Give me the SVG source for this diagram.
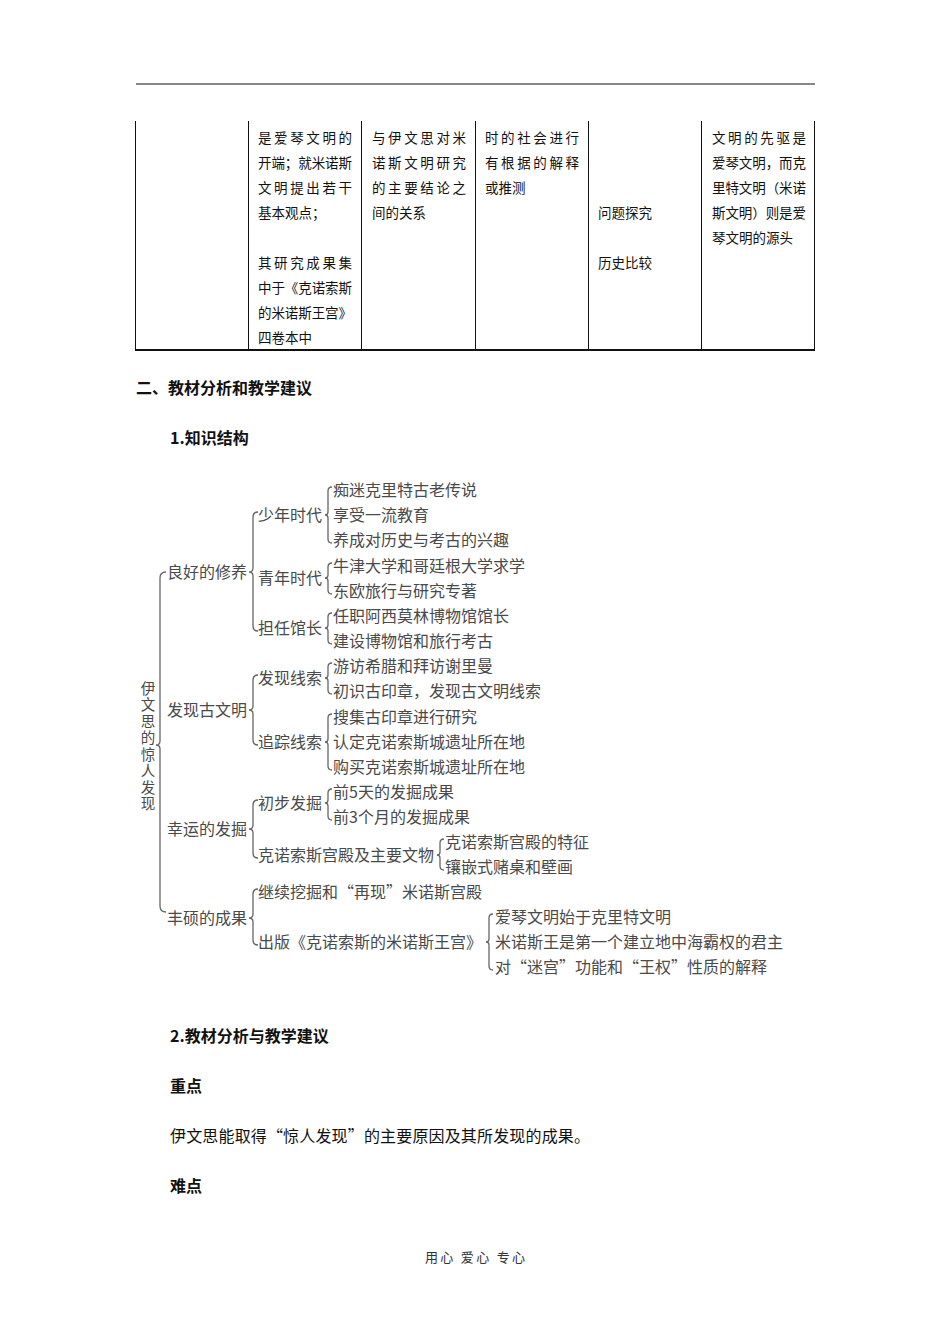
<svg xmlns="http://www.w3.org/2000/svg" width="950" height="1344" viewBox="0 0 950 1344">
<style>
text{font-family:"Noto Sans CJK SC","Noto Sans",sans-serif;}
.tb{font-size:13.5px;fill:#111;}
.h{font-size:16px;font-weight:bold;fill:#111;}
.p{font-size:16px;fill:#111;}
.tr{font-size:16px;fill:#4a4a4a;}
.rt{font-size:14.5px;fill:#4a4a4a;writing-mode:vertical-rl;letter-spacing:2px;}
.ft{font-size:13px;fill:#333;}
.br{fill:none;stroke:#666;stroke-width:1.3;}
.tl{stroke:#111;stroke-width:1;}
</style>
<rect width="950" height="1344" fill="#fff"/>
<line x1="136" y1="84" x2="815" y2="84" stroke="#111" stroke-width="1.2"/>

<g id="table">
<line class="tl" x1="135.5" y1="121" x2="135.5" y2="350"/>
<line class="tl" x1="248.5" y1="121" x2="248.5" y2="350"/>
<line class="tl" x1="361.5" y1="121" x2="361.5" y2="350"/>
<line class="tl" x1="475.5" y1="121" x2="475.5" y2="350"/>
<line class="tl" x1="588.5" y1="121" x2="588.5" y2="350"/>
<line class="tl" x1="701.5" y1="121" x2="701.5" y2="350"/>
<line class="tl" x1="814.5" y1="121" x2="814.5" y2="350"/>
<line x1="135" y1="350" x2="815" y2="350" stroke="#111" stroke-width="2"/>
<g class="tb">
<text x="258" y="143" textLength="94" lengthAdjust="spacing">是爱琴文明的</text>
<text x="258" y="168" textLength="94" lengthAdjust="spacing">开端；就米诺斯</text>
<text x="258" y="193" textLength="94" lengthAdjust="spacing">文明提出若干</text>
<text x="258" y="218">基本观点；</text>
<text x="258" y="268" textLength="94" lengthAdjust="spacing">其研究成果集</text>
<text x="258" y="293" textLength="94" lengthAdjust="spacing">中于《克诺索斯</text>
<text x="258" y="318" textLength="94" lengthAdjust="spacing">的米诺斯王宫》</text>
<text x="258" y="343">四卷本中</text>
<text x="372" y="143" textLength="94" lengthAdjust="spacing">与伊文思对米</text>
<text x="372" y="168" textLength="94" lengthAdjust="spacing">诺斯文明研究</text>
<text x="372" y="193" textLength="94" lengthAdjust="spacing">的主要结论之</text>
<text x="372" y="218">间的关系</text>
<text x="485" y="143" textLength="94" lengthAdjust="spacing">时的社会进行</text>
<text x="485" y="168" textLength="94" lengthAdjust="spacing">有根据的解释</text>
<text x="485" y="193">或推测</text>
<text x="598" y="218">问题探究</text>
<text x="598" y="268">历史比较</text>
<text x="712" y="143" textLength="94" lengthAdjust="spacing">文明的先驱是</text>
<text x="712" y="168" textLength="94" lengthAdjust="spacing">爱琴文明，而克</text>
<text x="712" y="193" textLength="94" lengthAdjust="spacing">里特文明（米诺</text>
<text x="712" y="218" textLength="94" lengthAdjust="spacing">斯文明）则是爱</text>
<text x="712" y="243">琴文明的源头</text>
</g>
</g>

<text class="h" x="136" y="394">二、教材分析和教学建议</text>
<text class="h" x="170" y="444">1.知识结构</text>

<g id="connectors">
<path class="br" d="M166 572 Q160 572 160 578 V741 Q160 745 156 745 Q160 745 160 749 V906 Q160 912 166 912"/>
<path class="br" d="M258 512 Q253 512 253 517 V568 Q253 572 249 572 Q253 572 253 576 V626 Q253 631 258 631"/>
<path class="br" d="M258 675 Q253 675 253 680 V706 Q253 710 249 710 Q253 710 253 714 V740 Q253 745 258 745"/>
<path class="br" d="M258 800 Q253 800 253 805 V825 Q253 829 249 829 Q253 829 253 833 V853 Q253 858 258 858"/>
<path class="br" d="M258 889 Q253 889 253 894 V914 Q253 918 249 918 Q253 918 253 922 V940 Q253 945 258 945"/>
<path class="br" d="M332 487 Q328 487 328 491 V512 Q328 515 325 515 Q328 515 328 518 V539 Q328 543 332 543"/>
<path class="br" d="M332 563 Q328 563 328 567 V575 Q328 578 325 578 Q328 578 328 581 V590 Q328 594 332 594"/>
<path class="br" d="M332 613 Q328 613 328 617 V625 Q328 628 325 628 Q328 628 328 631 V640 Q328 644 332 644"/>
<path class="br" d="M332 663 Q328 663 328 667 V675 Q328 678 325 678 Q328 678 328 681 V690 Q328 694 332 694"/>
<path class="br" d="M332 714 Q328 714 328 718 V739 Q328 742 325 742 Q328 742 328 745 V766 Q328 770 332 770"/>
<path class="br" d="M332 789 Q328 789 328 793 V800 Q328 803 325 803 Q328 803 328 806 V816 Q328 820 332 820"/>
<path class="br" d="M444 839 Q440 839 440 843 V852 Q440 855 437 855 Q440 855 440 858 V866 Q440 870 444 870"/>
<path class="br" d="M493 914 Q489 914 489 918 V939 Q489 942 486 942 Q489 942 489 945 V966 Q489 970 493 970"/>
</g>

<g id="root"><text class="rt" x="148" y="681">伊文思的惊人发现</text></g>
<g id="n-xiuyang" class="tr"><text x="167" y="578">良好的修养</text></g>
<g id="n-faxian" class="tr"><text x="167" y="716">发现古文明</text></g>
<g id="n-fajue" class="tr"><text x="167" y="835">幸运的发掘</text></g>
<g id="n-chengguo" class="tr"><text x="167" y="924">丰硕的成果</text></g>

<g id="n-shaonian" class="tr"><text x="258" y="521">少年时代</text></g>
<g id="n-qingnian" class="tr"><text x="258" y="584">青年时代</text></g>
<g id="n-guanzhang" class="tr"><text x="258" y="634">担任馆长</text></g>
<g id="n-xiansuo" class="tr"><text x="258" y="684">发现线索</text></g>
<g id="n-zhuizong" class="tr"><text x="258" y="748">追踪线索</text></g>
<g id="n-chubu" class="tr"><text x="258" y="809">初步发掘</text></g>
<g id="n-gongdian" class="tr"><text x="258" y="861">克诺索斯宫殿及主要文物</text></g>
<g id="n-jixu" class="tr"><text x="258" y="898">继续挖掘和“再现”米诺斯宫殿</text></g>
<g id="n-chuban" class="tr"><text x="258" y="948">出版《克诺索斯的米诺斯王宫》</text></g>

<g id="n-l1" class="tr"><text x="333" y="496">痴迷克里特古老传说</text></g>
<g id="n-l2" class="tr"><text x="333" y="521">享受一流教育</text></g>
<g id="n-l3" class="tr"><text x="333" y="546">养成对历史与考古的兴趣</text></g>
<g id="n-l4" class="tr"><text x="333" y="572">牛津大学和哥廷根大学求学</text></g>
<g id="n-l5" class="tr"><text x="333" y="597">东欧旅行与研究专著</text></g>
<g id="n-l6" class="tr"><text x="333" y="622">任职阿西莫林博物馆馆长</text></g>
<g id="n-l7" class="tr"><text x="333" y="647">建设博物馆和旅行考古</text></g>
<g id="n-l8" class="tr"><text x="333" y="672">游访希腊和拜访谢里曼</text></g>
<g id="n-l9" class="tr"><text x="333" y="697">初识古印章，发现古文明线索</text></g>
<g id="n-l10" class="tr"><text x="333" y="723">搜集古印章进行研究</text></g>
<g id="n-l11" class="tr"><text x="333" y="748">认定克诺索斯城遗址所在地</text></g>
<g id="n-l12" class="tr"><text x="333" y="773">购买克诺索斯城遗址所在地</text></g>
<g id="n-l13" class="tr"><text x="333" y="798">前5天的发掘成果</text></g>
<g id="n-l14" class="tr"><text x="333" y="823">前3个月的发掘成果</text></g>
<g id="n-l15" class="tr"><text x="445" y="848">克诺索斯宫殿的特征</text></g>
<g id="n-l16" class="tr"><text x="445" y="873">镶嵌式赌桌和壁画</text></g>
<g id="n-l17" class="tr"><text x="495" y="923">爱琴文明始于克里特文明</text></g>
<g id="n-l18" class="tr"><text x="495" y="948">米诺斯王是第一个建立地中海霸权的君主</text></g>
<g id="n-l19" class="tr"><text x="495" y="973">对“迷宫”功能和“王权”性质的解释</text></g>

<text class="h" x="170" y="1042">2.教材分析与教学建议</text>
<text class="h" x="170" y="1092">重点</text>
<text class="p" x="170" y="1142" textLength="420" lengthAdjust="spacing">伊文思能取得“惊人发现”的主要原因及其所发现的成果。</text>
<text class="h" x="170" y="1192">难点</text>
<text class="ft" x="425" y="1262" textLength="100" lengthAdjust="spacing">用心 爱心  专心</text>
</svg>
